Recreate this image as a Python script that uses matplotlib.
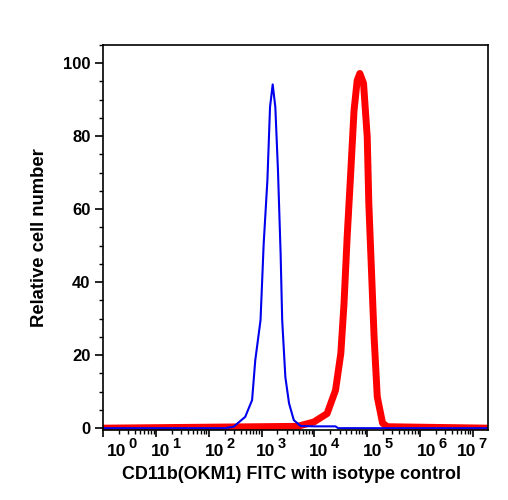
import matplotlib
matplotlib.use("Agg")
import matplotlib.pyplot as plt
import matplotlib.transforms as mtransforms
from matplotlib.ticker import MultipleLocator, LogLocator, NullFormatter

plt.rcParams["font.family"] = ["Liberation Sans", "DejaVu Sans"]
plt.rcParams["font.weight"] = "bold"

# isotype control (blue) - fluorescence intensity vs relative count
iso_x = [1, 200, 295, 490, 661, 759, 955, 1096, 1288, 1445, 1622, 1820, 2042,
         2291, 2455, 2818, 3311, 4074, 5495, 10000, 25119, 28184, 2e7]
iso_y = [0, 0, 0.4, 3.1, 7.7, 18.6, 29.6, 50.6, 67.9, 88, 94.2, 88, 70.7,
         47.9, 29.6, 14, 6.8, 2.2, 0.6, 0.5, 0.5, 0, 0]

# CD11b (OKM1) FITC stained (red)
cd11b_x = [1, 4786, 9772, 17378, 25119, 31623, 36308, 41687, 48978, 56234,
           64565, 72444, 85114, 100000, 107152, 120226, 134896, 154882,
           194984, 239883, 2e7]
cd11b_y = [0, 0.5, 1.7, 4, 10.4, 20.5, 34, 52.4, 70.7, 87,
           95.3, 97.2, 94.5, 79.8, 61.6, 43.3, 25, 8.6,
           1.4, 0.4, 0]

decades = [0, 1, 2, 3, 4, 5, 6, 7]
y_ticks = [0, 20, 40, 60, 80, 100]

fig = plt.figure(figsize=(5.08, 5.00), dpi=100)
ax = fig.add_axes([0.203, 0.14, 0.758, 0.77])

ax.plot(cd11b_x, cd11b_y, color="#ff0000", lw=5, solid_joinstyle="round")
ax.plot(iso_x, iso_y, color="#0000ee", lw=1.5)

ax.set_xscale("log")
ax.set_xlim(1, 10 ** 7.29)
ax.set_ylim(-0.5, 105)

ax.set_xticks([10 ** d for d in decades])
ax.set_xticklabels([])
ax.xaxis.set_minor_locator(LogLocator(base=10, subs=range(2, 10), numticks=20))
ax.xaxis.set_minor_formatter(NullFormatter())

ax.set_yticks(y_ticks)
ax.yaxis.set_minor_locator(MultipleLocator(5))

ax.tick_params(axis="both", which="major", direction="out", length=6, width=1.2,
               labelsize=12, top=False, right=False)
ax.tick_params(axis="both", which="minor", direction="out", length=3, width=1,
               top=False, right=False)
ax.tick_params(axis="x", which="major", length=5)
ax.tick_params(axis="y", which="major", pad=3)

# decade labels "10" with big superscript, placed like the original
shifts = [23, 14, 15, 14, 14, 15, 16, 3]   # px from tick to right end of "10"
trans = ax.get_xaxis_transform()
for d, dx in zip(decades, shifts):
    base = trans + mtransforms.ScaledTranslation(dx / 100, -26.5 / 100, fig.dpi_scale_trans)
    sup = trans + mtransforms.ScaledTranslation((dx + 2.5) / 100, -18.5 / 100, fig.dpi_scale_trans)
    ax.text(10 ** d, 0, "10", transform=base, ha="right", va="baseline",
            fontsize=12.5, fontweight="bold", clip_on=False)
    ax.text(10 ** d, 0, str(d), transform=sup, ha="left", va="baseline",
            fontsize=10.5, fontweight="bold", clip_on=False)

for sp in ax.spines.values():
    sp.set_linewidth(1.2)

ax.set_xlabel("CD11b(OKM1) FITC with isotype control", fontsize=12.9, fontweight="bold")
ax.xaxis.set_label_coords(0.49, -0.093)
ax.set_ylabel("Relative cell number", fontsize=13.3, fontweight="bold")
ax.yaxis.set_label_coords(-0.143, 0.5)

fig.savefig("out.png", dpi=100)
